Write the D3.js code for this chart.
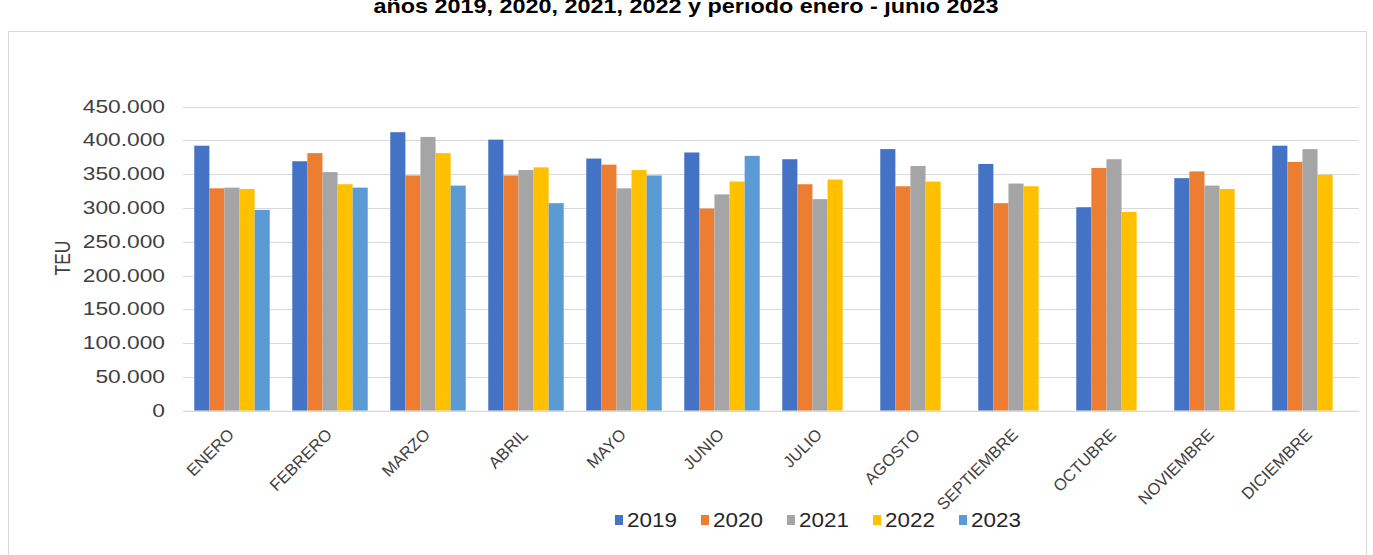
<!DOCTYPE html>
<html lang="es">
<head>
<meta charset="UTF-8">
<title>TEU</title>
<script src="https://d3js.org/d3.v7.min.js"></script>
<style>
  body { margin: 0; background: #fff; }
  svg { display: block; font-family: "Liberation Sans", Arial, sans-serif; }
</style>
</head>
<body>
<div id="chart"></div>
<script>
// data
const months = ["ENERO", "FEBRERO", "MARZO", "ABRIL", "MAYO", "JUNIO", "JULIO",
  "AGOSTO", "SEPTIEMBRE", "OCTUBRE", "NOVIEMBRE", "DICIEMBRE"];
const years = ["2019", "2020", "2021", "2022", "2023"];
const v2019 = [392000, 369000, 412000, 401000, 373000, 382000, 372000, 387000, 365000, 301000, 344000, 392000];
const v2020 = [329000, 381000, 348000, 348000, 364000, 299000, 335000, 332000, 307000, 359000, 354000, 368000];
const v2021 = [330000, 353000, 405000, 356000, 329000, 320000, 313000, 362000, 336000, 372000, 333000, 387000];
const v2022 = [328000, 335000, 381000, 360000, 356000, 339000, 342000, 339000, 332000, 294000, 328000, 349000];
const v2023 = [297000, 330000, 333000, 307000, 348000, 377000, null, null, null, null, null, null];
const yTicks = [0, 50000, 100000, 150000, 200000, 250000, 300000, 350000, 400000, 450000];

const series = [v2019, v2020, v2021, v2022, v2023];
const colors = ["#4472C4", "#ED7D31", "#A5A5A5", "#FFC000", "#5B9BD5"];

const W = 1373, H = 555;
const sx = 1.3; // the source picture is stretched sideways
const svg = d3.select("#chart").append("svg")
  .attr("width", W).attr("height", H);

svg.append("rect").attr("width", W).attr("height", H).attr("fill", "#fff");

// chart frame
svg.append("rect")
  .attr("x", 8.5).attr("y", 31.5)
  .attr("width", 1358).attr("height", H)
  .attr("fill", "none").attr("stroke", "#d9d9d9");

// title (cut at top in the source)
svg.append("text")
  .attr("transform", "translate(686,13) scale(1.17,1)")
  .attr("text-anchor", "middle")
  .attr("font-size", 20).attr("font-weight", "bold")
  .attr("fill", "#000")
  .text("años 2019, 2020, 2021, 2022 y periodo enero - junio 2023");

const x = d3.scaleBand().domain(months).range([183, 1359])
  .paddingInner(0.23).paddingOuter(0.115);
const xi = d3.scaleBand().domain(years).range([0, x.bandwidth()]);
const y = d3.scaleLinear().domain([0, 450000]).range([410.7, 106.5]);

const fmt = d3.formatLocale({ decimal: ",", thousands: ".", grouping: [3], currency: ["", ""] }).format(",");

// grid
svg.append("g")
  .selectAll("line").data(yTicks).join("line")
  .attr("x1", 183).attr("x2", 1359)
  .attr("y1", d => Math.round(y(d)) + 0.5).attr("y2", d => Math.round(y(d)) + 0.5)
  .attr("stroke", "#d9d9d9").attr("stroke-width", 1);

// y axis labels
const yAxis = svg.append("g")
  .attr("transform", "translate(165,0)")
  .call(d3.axisLeft(y).tickValues(yTicks).tickFormat(fmt).tickSize(0).tickPadding(0));
yAxis.select(".domain").remove();
yAxis.selectAll("text")
  .attr("font-size", 17.5).attr("fill", "#404040").attr("font-family", "Liberation Sans, Arial, sans-serif")
  .attr("transform", `scale(${sx},1)`);

svg.append("text")
  .attr("transform", `translate(70,258) scale(${sx},1) rotate(-90)`)
  .attr("text-anchor", "middle")
  .attr("font-size", 17.5).attr("fill", "#404040")
  .text("TEU");

// bars
const rows = [];
months.forEach((m, i) => {
  years.forEach((yr, j) => {
    if (series[j][i] != null) rows.push({ m, yr, v: series[j][i], c: colors[j] });
  });
});
svg.append("g")
  .selectAll("rect").data(rows).join("rect")
  .attr("x", d => x(d.m) + xi(d.yr))
  .attr("width", xi.bandwidth())
  .attr("y", d => y(d.v))
  .attr("height", d => y(0) - y(d.v))
  .attr("fill", d => d.c);

// x axis labels
const xAxis = svg.append("g")
  .attr("transform", `translate(0,${y(0)})`)
  .call(d3.axisBottom(x).tickSize(0).tickPadding(0));
xAxis.select(".domain").attr("stroke", "#d9d9d9");
xAxis.selectAll("text")
  .attr("font-size", 16.5).attr("fill", "#404040")
  .attr("font-family", "Liberation Sans, Arial, sans-serif")
  .attr("text-anchor", "end")
  .attr("dy", null).attr("y", 0)
  .attr("transform", "translate(3,25) rotate(-45)");

// legend
const lg = svg.append("g").attr("transform", "translate(615,520)")
  .selectAll("g").data(years).join("g")
  .attr("transform", (d, i) => `translate(${i * 86},0)`);
lg.append("rect").attr("x", 0).attr("y", -5).attr("width", 8).attr("height", 10)
  .attr("fill", (d, i) => colors[i]);
lg.append("text").attr("transform", "translate(12,7) scale(1.15,1)")
  .attr("font-size", 19.5).attr("fill", "#262626")
  .text(d => d);
</script>
</body>
</html>
